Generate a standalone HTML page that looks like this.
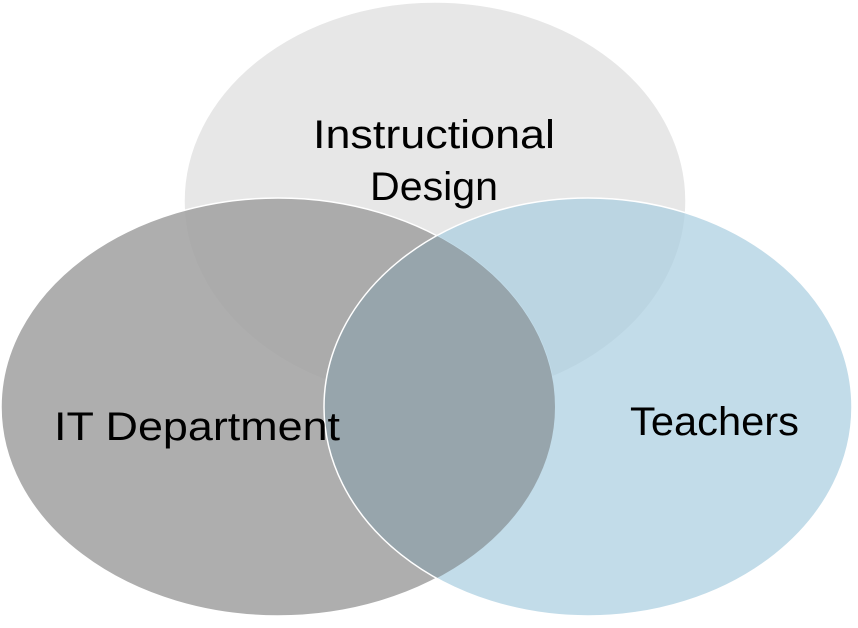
<!DOCTYPE html>
<html><head><meta charset="utf-8"><style>
html,body{margin:0;padding:0;background:#fff;}
svg{display:block;}
text{font-family:"Liberation Sans",sans-serif;font-size:40px;fill:#000;}
</style></head><body>
<svg width="858" height="628" viewBox="0 0 858 628" xmlns="http://www.w3.org/2000/svg">
<defs>
<clipPath id="lc"><ellipse cx="278" cy="407" rx="277" ry="209"/></clipPath>
</defs>
<rect width="858" height="628" fill="#fff"/>
<ellipse cx="435" cy="201" rx="251" ry="199" fill="#e7e7e7" stroke="#fff" stroke-width="1.5"/>
<ellipse cx="278" cy="407" rx="277" ry="209" fill="#a0a0a0" fill-opacity="0.85" stroke="#fff" stroke-width="1.5"/>
<ellipse cx="588" cy="407" rx="264" ry="209" fill="#a8cde0" fill-opacity="0.7"/>
<ellipse cx="588" cy="407" rx="264" ry="209" fill="#97a5ac" clip-path="url(#lc)"/>
<ellipse cx="588" cy="407" rx="264" ry="209" fill="none" stroke="#fff" stroke-width="1.5"/>
<text x="313" y="148" textLength="242" lengthAdjust="spacingAndGlyphs">Instructional</text>
<text x="370" y="200" textLength="128" lengthAdjust="spacingAndGlyphs">Design</text>
<text x="54" y="440" textLength="286" lengthAdjust="spacingAndGlyphs">IT Department</text>
<text x="630" y="435" textLength="169" lengthAdjust="spacingAndGlyphs">Teachers</text>
</svg>
</body></html>
